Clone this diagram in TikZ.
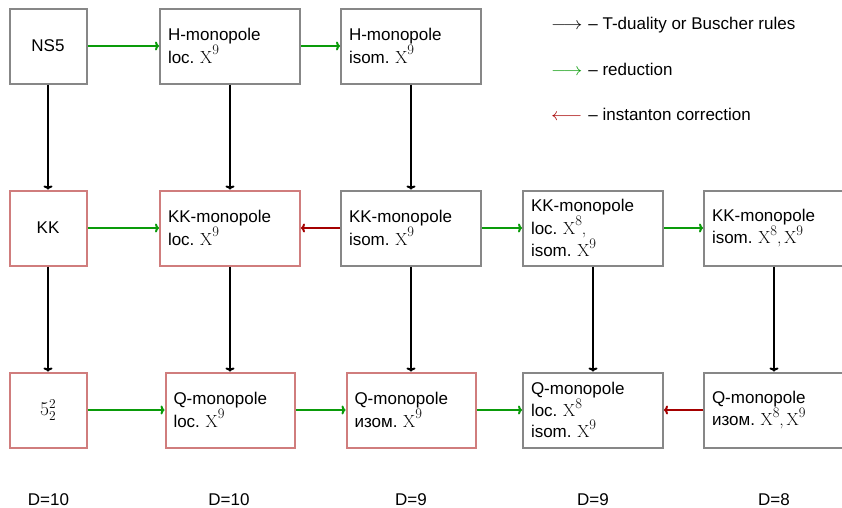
\documentclass[tikz,border=0pt]{standalone}
\usepackage{fontspec}
\setmainfont{Liberation Sans}
\newfontfamily\lmr{Latin Modern Roman}
\usetikzlibrary{arrows.meta}
\definecolor{boxgray}{RGB}{135,135,135}
\definecolor{boxred}{RGB}{208,125,125}
\definecolor{redgreen}{RGB}{10,155,10}
\definecolor{arrred}{RGB}{165,0,0}
\newcommand{\Xs}[1]{{\lmr\fontsize{17.5}{21}\selectfont X\raisebox{8.5pt}{\fontsize{14.5}{14}\selectfont #1}}}
\newcommand{\cm}{{\lmr\fontsize{17.5}{21}\selectfont ,}}
\newcommand{\fivetwo}{{\lmr\fontsize{19.5}{21}\selectfont 5\raisebox{-4.8pt}{\fontsize{13.5}{13}\selectfont\vbox{\baselineskip=11.8pt\lineskiplimit=-20pt\hbox{2}\hbox{2}}}}}
\newcommand{\legar}[1]{\scalebox{1.12}[1]{$#1$}}
\begin{document}
\frenchspacing
\begin{tikzpicture}[x=1pt,y=-1pt,
  font=\fontsize{17}{21}\selectfont,
  box/.style={draw=boxgray, line width=2pt, fill=white, minimum height=75pt, inner ysep=0pt},
  sbox/.style={box, minimum width=77pt, inner xsep=0pt, align=center},
  wbox/.style={box, inner xsep=8pt, text width=124pt, align=left},
  qbox/.style={box, inner xsep=8pt, text width=113pt, align=left},
  redbox/.style={draw=boxred},
  tarr/.style={line width=2pt, -{To[length=4pt,width=9pt]}},
  garr/.style={tarr, draw=redgreen},
  rarr/.style={tarr, draw=arrred},
  barr/.style={tarr, draw=black},
  lbl/.style={anchor=base},
  legtext/.style={anchor=base west, inner sep=0pt}
]
\useasboundingbox (0,0) rectangle (842,507);

% row 1
\node[sbox] (ns5) at (48,46) {NS5};
\node[wbox] (hloc) at (230,46) {H-monopole\\loc. \Xs{9}};
\node[wbox] (hiso) at (411,46) {H-monopole\\isom. \Xs{9}};

% row 2
\node[sbox,redbox] (kk) at (48,228) {KK};
\node[wbox,redbox] (kkloc) at (230,228) {KK-monopole\\loc. \Xs{9}};
\node[wbox] (kkiso) at (411,228) {KK-monopole\\isom. \Xs{9}};
\node[wbox] (kkloc8) at (593,228) {KK-monopole\\loc. \Xs{8}\cm\\isom. \Xs{9}};
\node[wbox] (kkiso89) at (774,228) {KK-monopole\\isom. \Xs{8}\cm\,\Xs{9}};

% row 3
\node[sbox,redbox] (s522) at (48,410) {\fivetwo};
\node[qbox,redbox] (qloc) at (230,410) {Q-monopole\\loc. \Xs{9}};
\node[qbox,redbox] (qiso) at (411,410) {Q-monopole\\изом. \Xs{9}};
\node[wbox] (qloc8) at (593,410) {Q-monopole\\loc. \Xs{8}\\isom. \Xs{9}};
\node[wbox] (qiso89) at (774,410) {Q-monopole\\изом. \Xs{8}\cm\,\Xs{9}};

% horizontal arrows
\draw[garr] (ns5) -- (hloc);
\draw[garr] (hloc) -- (hiso);
\draw[garr] (kk) -- (kkloc);
\draw[rarr] (kkiso) -- (kkloc);
\draw[garr] (kkiso) -- (kkloc8);
\draw[garr] (kkloc8) -- (kkiso89);
\draw[garr] (s522) -- (qloc);
\draw[garr] (qloc) -- (qiso);
\draw[garr] (qiso) -- (qloc8);
\draw[rarr] (qiso89) -- (qloc8);

% vertical arrows
\draw[barr] (ns5) -- (kk);
\draw[barr] (hloc) -- (kkloc);
\draw[barr] (hiso) -- (kkiso);
\draw[barr] (kk) -- (s522);
\draw[barr] (kkloc) -- (qloc);
\draw[barr] (kkiso) -- (qiso);
\draw[barr] (kkloc8) -- (qloc8);
\draw[barr] (kkiso89) -- (qiso89);

% legend
\node[legtext] (leg1) at (551,29) {\legar{\longrightarrow}\hspace{6pt}– T-duality or Buscher rules};
\node[legtext] (leg2) at (551,75) {\textcolor{redgreen}{\legar{\longrightarrow}}\hspace{6pt}– reduction};
\node[legtext] (leg3) at (551,120) {\textcolor{arrred}{\legar{\longleftarrow}}\hspace{6pt}– instanton correction};

% dimension labels
\node[lbl] (d1) at (48.5,505) {D=10};
\node[lbl] (d2) at (229,505) {D=10};
\node[lbl] (d3) at (411,505) {D=9};
\node[lbl] (d4) at (593,505) {D=9};
\node[lbl] (d5) at (774,505) {D=8};
\end{tikzpicture}
\end{document}
